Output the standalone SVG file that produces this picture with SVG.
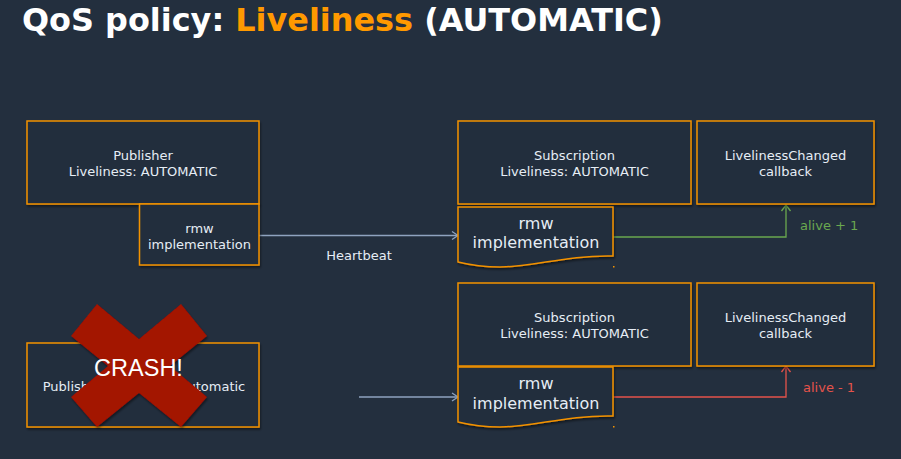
<svg xmlns="http://www.w3.org/2000/svg" width="901" height="459" viewBox="0 0 901 459">
  <style>
    .box { fill: #232f3e; stroke: #f39200; stroke-width: 1.5; }
    .lbl { font-family: "DejaVu Sans", Verdana, sans-serif; font-size: 13px; fill: #e6edf5; text-anchor: middle; }
    .big { font-size: 16px; }
    .title { font-family: "DejaVu Sans", Verdana, sans-serif; font-size: 31.9px; font-weight: bold; fill: #ffffff; }
    .hb { fill: none; stroke: #8fa3bf; stroke-width: 1.3; }
    .ok { fill: none; stroke: #6aa84f; stroke-width: 1.3; }
    .bad { fill: none; stroke: #e5534b; stroke-width: 1.3; }
  </style>
  <defs>
    <filter id="shadow" x="-10%" y="-10%" width="130%" height="130%">
      <feDropShadow dx="1" dy="2" stdDeviation="1" flood-color="#000000" flood-opacity="0.45"/>
    </filter>
    <marker id="arrHb" markerUnits="userSpaceOnUse" markerWidth="12" markerHeight="12" refX="10" refY="6" orient="auto">
      <path d="M4,2 L10,6 L4,10" fill="none" stroke="#8fa3bf" stroke-width="1.3"/>
    </marker>
    <marker id="arrOk" markerUnits="userSpaceOnUse" markerWidth="12" markerHeight="12" refX="10" refY="6" orient="auto">
      <path d="M4,1.5 L10,6 L4,10.5" fill="none" stroke="#6aa84f" stroke-width="1.3"/>
    </marker>
    <marker id="arrBad" markerUnits="userSpaceOnUse" markerWidth="12" markerHeight="12" refX="10" refY="6" orient="auto">
      <path d="M4,1.5 L10,6 L4,10.5" fill="none" stroke="#e5534b" stroke-width="1.3"/>
    </marker>
  </defs>

  <rect x="0" y="0" width="901" height="459" fill="#232f3e"/>

  <text class="title" x="22" y="31">QoS policy: <tspan fill="#ff9900">Liveliness</tspan> (AUTOMATIC)</text>

  <!-- connectors -->
  <g id="connectors">
    <path class="hb" d="M259,235.5 H458" marker-end="url(#arrHb)"/>
    <text class="lbl" x="359" y="260">Heartbeat</text>
    <path class="ok" d="M613,237 H786 V205" marker-end="url(#arrOk)"/>
    <text class="lbl" x="800" y="230" style="text-anchor:start; fill:#6aa84f">alive + 1</text>
    <path class="hb" d="M359,397 H458" marker-end="url(#arrHb)"/>
    <path class="bad" d="M613,397 H786 V366" marker-end="url(#arrBad)"/>
    <text class="lbl" x="803" y="392" style="text-anchor:start; fill:#e5534b">alive - 1</text>
  </g>

  <!-- top row: healthy publisher -->
  <g id="publisher">
    <rect class="box" x="27" y="121" width="232" height="83" filter="url(#shadow)"/>
    <text class="lbl" x="143" y="160">Publisher</text>
    <text class="lbl" x="143" y="176">Liveliness: AUTOMATIC</text>
  </g>
  <g id="pub-rmw">
    <rect class="box" x="139.5" y="204" width="119.5" height="61" filter="url(#shadow)"/>
    <text class="lbl" x="199.5" y="233">rmw</text>
    <text class="lbl" x="199.5" y="249">implementation</text>
  </g>
  <g id="subscription">
    <rect class="box" x="458" y="121" width="233" height="83" filter="url(#shadow)"/>
    <text class="lbl" x="574.5" y="160">Subscription</text>
    <text class="lbl" x="574.5" y="176">Liveliness: AUTOMATIC</text>
  </g>
  <g id="callback">
    <rect class="box" x="697" y="121" width="177" height="83" filter="url(#shadow)"/>
    <text class="lbl" x="785.5" y="160">LivelinessChanged</text>
    <text class="lbl" x="785.5" y="176">callback</text>
  </g>
  <g id="sub-rmw">
    <path class="box" d="M458,207 H613 V256 C565,255 535,267 500,267 C482,267 470,265 458,262 Z" filter="url(#shadow)"/>
    <rect x="613" y="266" width="1.5" height="1.5" fill="#f39200"/>
    <text class="lbl big" x="536" y="229">rmw</text>
    <text class="lbl big" x="536" y="248">implementation</text>
  </g>

  <!-- bottom row: crashed publisher -->
  <g id="publisher-crashed">
    <rect class="box" x="27" y="343" width="232" height="84" filter="url(#shadow)"/>
    <text class="lbl" x="144" y="391">Publisher Liveliness: Automatic</text>
  </g>
  <g id="subscription-2">
    <rect class="box" x="458" y="283" width="233" height="83" filter="url(#shadow)"/>
    <text class="lbl" x="574.5" y="322">Subscription</text>
    <text class="lbl" x="574.5" y="338">Liveliness: AUTOMATIC</text>
  </g>
  <g id="callback-2">
    <rect class="box" x="697" y="283" width="177" height="83" filter="url(#shadow)"/>
    <text class="lbl" x="785.5" y="322">LivelinessChanged</text>
    <text class="lbl" x="785.5" y="338">callback</text>
  </g>
  <g id="sub-rmw-2">
    <path class="box" d="M458,367 H613 V416 C565,415 535,427 500,427 C482,427 470,425 458,422 Z" filter="url(#shadow)"/>
    <rect x="613" y="426" width="1.5" height="1.5" fill="#f39200"/>
    <text class="lbl big" x="536" y="389">rmw</text>
    <text class="lbl big" x="536" y="409">implementation</text>
  </g>

  <!-- crash mark over the publisher -->
  <g id="crash">
    <polygon points="97,304 139,339 181,304 207,336 170,366 207,397 181,427 139,393 97,427 71,397 108,366 71,336" fill="#a31200" filter="url(#shadow)"/>
    <text x="138.5" y="376" text-anchor="middle" font-family="'Liberation Sans', Arial, sans-serif" font-size="23.5" fill="#ffffff">CRASH!</text>
  </g>
</svg>
